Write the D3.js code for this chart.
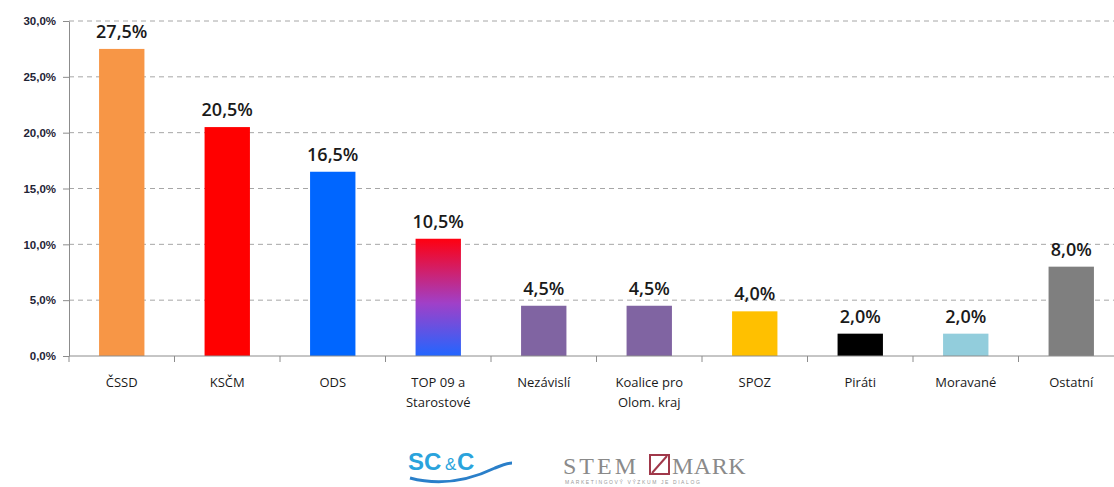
<!DOCTYPE html>
<head>
    <style>
        body { margin: 0; background: #fff; }
        svg { font-family: "Open Sans", sans-serif; }
        .grid line { stroke: #a6a6a6; stroke-dasharray: 5, 4; }
        .axis path, .axis line { stroke: #8c8c8c; }
        .ytick text { font-size: 11.5px; font-weight: bold; fill: #1f2436; }
        .xlab { font-size: 13px; fill: #1a1a1a; }
        .val { font-size: 18px; font-weight: 600; fill: #1a1a1a; }
    </style>
</head>
<body>
    <svg></svg>
</body>
<script src="https://d3js.org/d3.v7.min.js"></script>
<script>
    // chart data
    var categories = ['ČSSD', 'KSČM', 'ODS', 'TOP 09 a|Starostové', 'Nezávislí', 'Koalice pro|Olom. kraj', 'SPOZ', 'Piráti', 'Moravané', 'Ostatní'];
    var values = [27.5, 20.5, 16.5, 10.5, 4.5, 4.5, 4.0, 2.0, 2.0, 8.0];
    var colors = ['#f79646', '#ff0000', '#0066ff', 'url(#topGrad)', '#8064a2', '#8064a2', '#ffc000', '#000000', '#92cddc', '#7f7f7f'];
    var yTicks = [0, 5, 10, 15, 20, 25, 30];

    var width = 1114, height = 487;
    var svg = d3.select('svg').attr('width', width).attr('height', height);

    // gradient for TOP 09 bar
    var grad = svg.append('defs').append('linearGradient')
        .attr('id', 'topGrad').attr('x1', 0).attr('y1', 0).attr('x2', 0).attr('y2', 1);
    grad.append('stop').attr('offset', '0%').attr('stop-color', '#ff0010');
    grad.append('stop').attr('offset', '55%').attr('stop-color', '#a040c8');
    grad.append('stop').attr('offset', '100%').attr('stop-color', '#2266ff');

    var x = d3.scaleBand().domain(categories).range([69, 1124]).paddingInner(0.57).paddingOuter(0.285);
    var y = d3.scaleLinear().domain([0, 30]).range([356, 21]);

    var fmt = function (v) { return d3.format('.1f')(v).replace('.', ',') + '%'; };

    // dashed gridlines
    svg.append('g').attr('class', 'grid')
        .selectAll('line').data(yTicks.slice(1)).join('line')
        .attr('x1', 69).attr('x2', width).attr('y1', function (d) { return y(d); }).attr('y2', function (d) { return y(d); });

    // y axis
    var yAxis = svg.append('g').attr('class', 'axis ytick')
        .attr('transform', 'translate(69,0)')
        .call(d3.axisLeft(y).tickValues(yTicks).tickFormat(fmt).tickSize(6).tickSizeOuter(0));
    yAxis.selectAll('text').attr('x', -13);

    // bars
    svg.append('g').selectAll('rect').data(values).join('rect')
        .attr('x', function (d, i) { return x(categories[i]); })
        .attr('y', function (d) { return y(d); })
        .attr('width', x.bandwidth())
        .attr('height', function (d) { return y(0) - y(d); })
        .attr('fill', function (d, i) { return colors[i]; });

    // x axis line + ticks between categories
    var step = x.step();
    var xg = svg.append('g').attr('class', 'axis');
    xg.append('line').attr('x1', 69).attr('x2', width).attr('y1', y(0)).attr('y2', y(0));
    xg.selectAll('line.tk').data(d3.range(categories.length + 1)).join('line').attr('class', 'tk')
        .attr('x1', function (i) { return 69 + i * step; }).attr('x2', function (i) { return 69 + i * step; })
        .attr('y1', y(0)).attr('y2', y(0) + 6);

    // value labels
    svg.append('g').selectAll('text').data(values).join('text')
        .attr('class', 'val')
        .attr('text-anchor', 'middle')
        .attr('x', function (d, i) { return x(categories[i]) + x.bandwidth() / 2; })
        .attr('y', function (d) { return y(d) - 11; })
        .text(fmt);

    // category labels
    svg.append('g').selectAll('text').data(categories).join('text')
        .attr('class', 'xlab')
        .attr('text-anchor', 'middle')
        .attr('x', function (d) { return x(d) + x.bandwidth() / 2; })
        .attr('y', 387)
        .selectAll('tspan').data(function (d) { return d.split('|'); }).join('tspan')
        .attr('x', function () { var c = this.parentNode.__data__; return x(c) + x.bandwidth() / 2; })
        .attr('dy', function (d, i) { return i ? 20 : 0; })
        .text(function (d) { return d; });

    // logos
    var logo = svg.append('g');
    logo.append('text').attr('x', 408).attr('y', 470).attr('font-size', 24).attr('font-weight', 'bold')
        .attr('fill', '#2aa3dc').attr('font-family', 'Liberation Sans').text('SC');
    logo.append('text').attr('x', 445).attr('y', 470).attr('font-size', 17)
        .attr('fill', '#2aa3dc').attr('font-family', 'Liberation Sans').text('&');
    logo.append('text').attr('x', 457).attr('y', 470).attr('font-size', 24).attr('font-weight', 'bold')
        .attr('fill', '#2aa3dc').attr('font-family', 'Liberation Sans').text('C');
    logo.append('path').attr('d', 'M410,478 C440,486 470,480 495,468 C502,465 508,463 512,463')
        .attr('fill', 'none').attr('stroke', '#2a7fc9').attr('stroke-width', 3);
    logo.append('text').attr('x', 563).attr('y', 474).attr('font-size', 24)
        .attr('fill', '#8a8a8a').attr('font-family', 'Liberation Serif').attr('letter-spacing', 3).text('STEM');
    logo.append('rect').attr('x', 650).attr('y', 455).attr('width', 19).attr('height', 19)
        .attr('fill', 'none').attr('stroke', '#a0384a').attr('stroke-width', 2);
    logo.append('line').attr('x1', 652).attr('y1', 473).attr('x2', 667).attr('y2', 456)
        .attr('stroke', '#a0384a').attr('stroke-width', 2);
    logo.append('text').attr('x', 672).attr('y', 474).attr('font-size', 24)
        .attr('fill', '#8a8a8a').attr('font-family', 'Liberation Serif').attr('letter-spacing', 0.5).text('MARK');
    logo.append('text').attr('x', 565).attr('y', 484).attr('font-size', 5)
        .attr('fill', '#999').attr('font-family', 'Liberation Sans').attr('letter-spacing', 1.6).text('MARKETINGOVÝ VÝZKUM JE DIALOG');
</script>
